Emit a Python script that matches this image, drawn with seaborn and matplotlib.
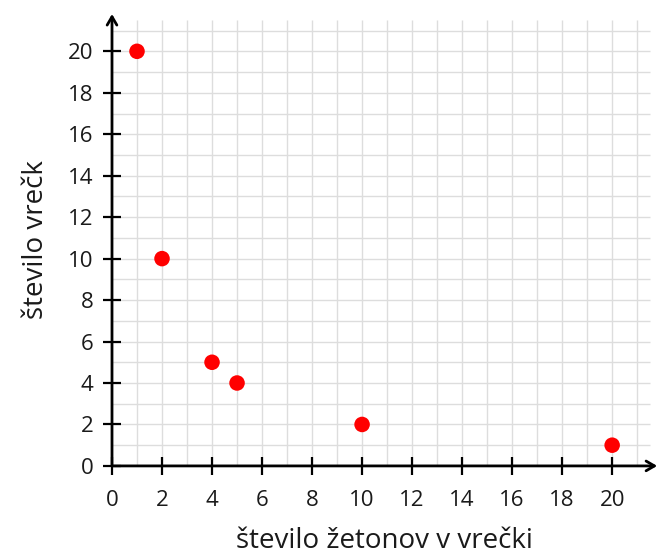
import matplotlib
matplotlib.use('Agg')
import matplotlib.pyplot as plt
import seaborn as sns
import pandas as pd

# podatki
zetoni = [1, 2, 4, 5, 10, 20]
vrecke = [20, 10, 5, 4, 2, 1]
ticks = list(range(0, 21, 2))

sns.set_style("white")
plt.rcParams['font.family'] = ['Open Sans', 'DejaVu Sans']

df = pd.DataFrame({"zetoni": zetoni, "vrecke": vrecke})

fig = plt.figure(figsize=(6.6, 5.6), dpi=100)
ax = fig.add_axes([0.1697, 0.168, 0.826, 0.807])

xmax, ymax = 21.8, 21.8
ax.set_xlim(0, xmax)
ax.set_ylim(0, ymax)

# mreža na vsako enoto
for v in range(1, 22):
    ax.vlines(v, 0, 21.5, color='#dddddd', lw=1, zorder=0)
    ax.hlines(v, 0, 21.5, color='#dddddd', lw=1, zorder=0)

sns.scatterplot(data=df, x="zetoni", y="vrecke", color='#ff0000', s=125,
                edgecolor='none', ax=ax, zorder=5, clip_on=False)

for s in ax.spines.values():
    s.set_visible(False)

# osi s puščicami
ax.annotate('', xy=(xmax, 0), xytext=(0, 0),
            arrowprops=dict(arrowstyle='->,head_length=0.6,head_width=0.35', lw=2, color='black',
                            shrinkA=0, shrinkB=0), annotation_clip=False)
ax.annotate('', xy=(0, ymax), xytext=(0, 0),
            arrowprops=dict(arrowstyle='->,head_length=0.6,head_width=0.35', lw=2, color='black',
                            shrinkA=0, shrinkB=0), annotation_clip=False)

ax.set_xticks(ticks)
ax.set_yticks(ticks)
ax.tick_params(direction='inout', length=13, width=1.6, color='black', pad=7,
               labelsize=16, labelcolor='#1a1a1a', bottom=True, left=True)
ax.tick_params(axis='x', pad=11)

ax.set_xlabel("število žetonov v vrečki", fontsize=20, color='#1a1a1a', labelpad=11)
ax.set_ylabel("število vrečk", fontsize=20, color='#1a1a1a', labelpad=13)

fig.savefig("out.png", dpi=100)
plt.close(fig)
